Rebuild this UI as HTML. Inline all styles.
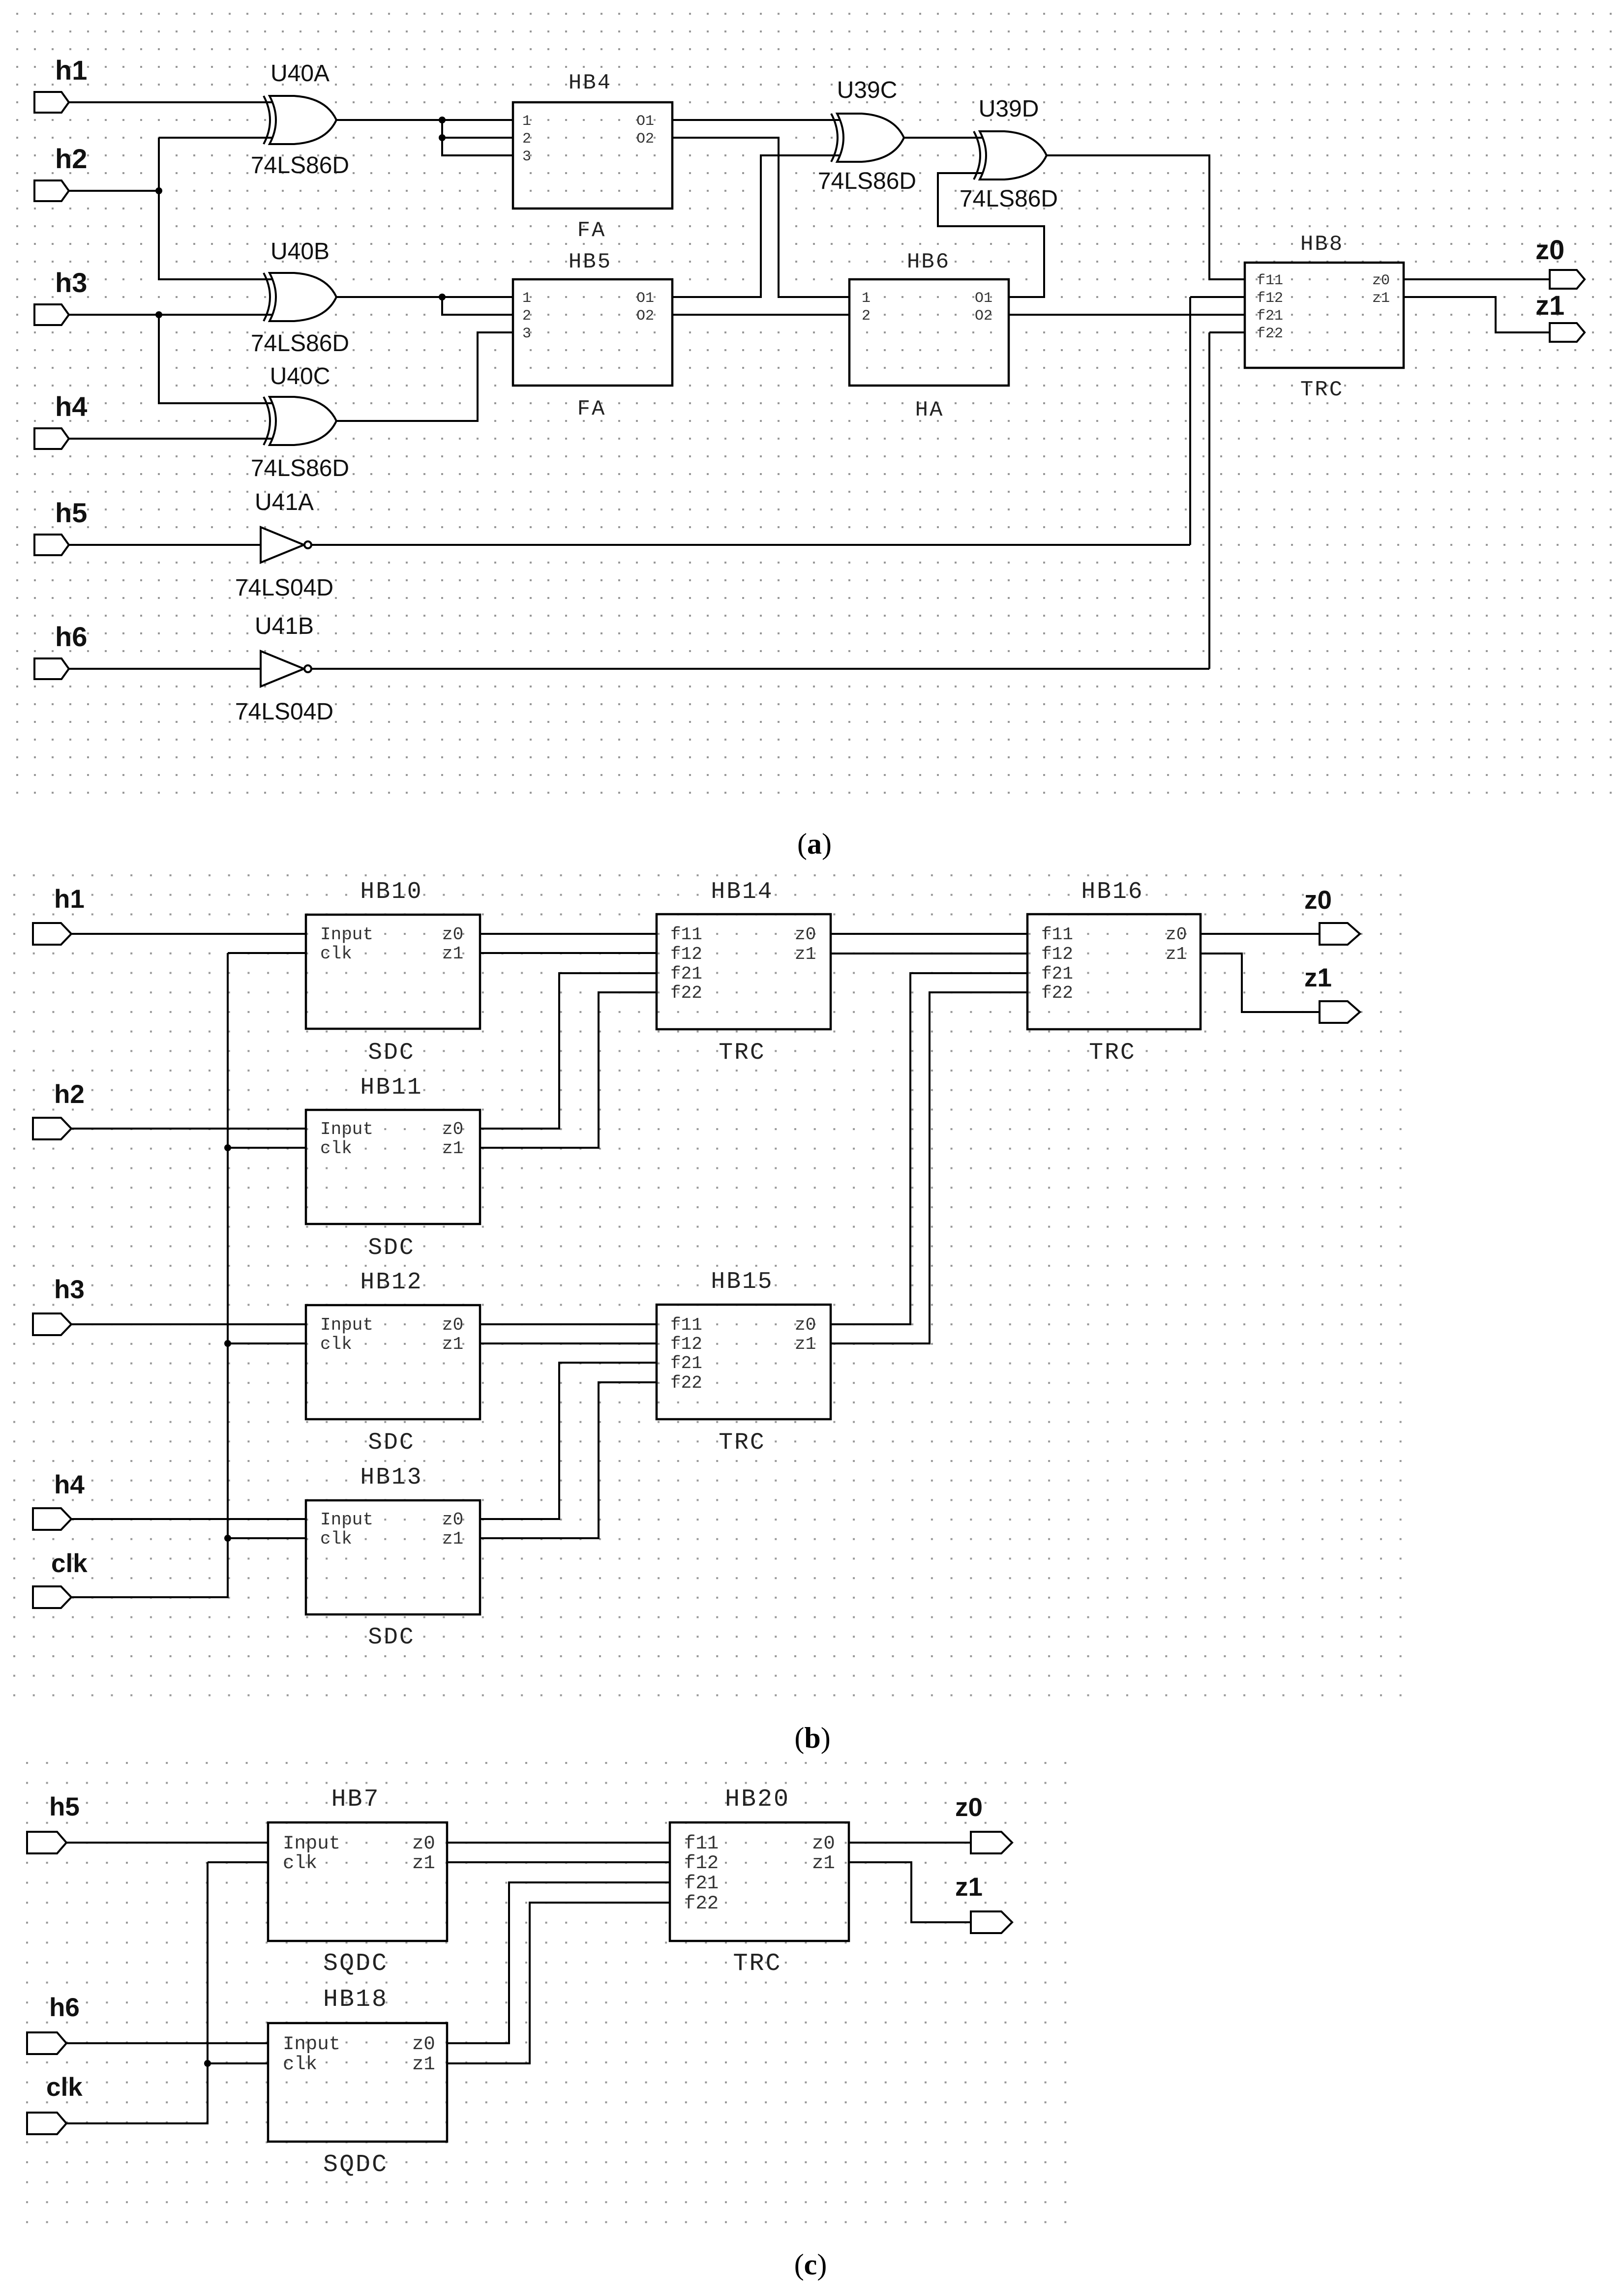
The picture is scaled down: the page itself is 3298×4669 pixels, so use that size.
<!DOCTYPE html>
<html><head><meta charset="utf-8"><style>
html,body{margin:0;padding:0;background:#fff;}
svg{display:block;}
.w{fill:none;stroke:#000;stroke-width:4;}
.b{fill:none;stroke:#000;stroke-width:4.5;}
.p{fill:#fff;stroke:#000;stroke-width:4;}
.lb{font-family:"Liberation Sans",Arial,sans-serif;font-weight:bold;font-size:56px;fill:#111;}
.gl{font-family:"Liberation Sans",Arial,sans-serif;font-size:48px;fill:#111;text-anchor:middle;}
.nl{font-family:"Liberation Mono",monospace;font-size:48px;fill:#222;text-anchor:middle;letter-spacing:3px;}
.pl{font-family:"Liberation Mono",monospace;font-size:36px;fill:#333;}
.pa{font-family:"Liberation Mono",monospace;font-size:30px;fill:#333;}
.cap{font-family:"Liberation Serif",serif;font-size:60px;fill:#000;text-anchor:middle;}
</style></head><body>
<svg width="3298" height="4669" viewBox="0 0 3298 4669" xmlns="http://www.w3.org/2000/svg">
<defs>
<pattern id="ga" x="33" y="26" width="36" height="36" patternUnits="userSpaceOnUse"><rect width="4" height="4" fill="#999"/></pattern>
<pattern id="gb" x="27" y="1778" width="39.7" height="39.7" patternUnits="userSpaceOnUse"><rect width="4" height="4" fill="#999"/></pattern>
<pattern id="gc" x="53" y="3583" width="40.6" height="40.6" patternUnits="userSpaceOnUse"><rect width="4" height="4" fill="#999"/></pattern>
</defs>
<rect x="0" y="0" width="3298" height="4669" fill="#fff"/>
<rect x="30" y="22" width="3252" height="1596" fill="url(#ga)"/>
<rect x="25" y="1775" width="2830" height="1678" fill="url(#gb)"/>
<rect x="50" y="3580" width="2122" height="945" fill="url(#gc)"/>

<!-- ============ PANEL A ============ -->
<!-- ports -->
<g class="p">
<path d="M70,187 L125,187 L140,208 L125,229 L70,229 Z"/>
<path d="M70,367 L125,367 L140,388 L125,409 L70,409 Z"/>
<path d="M70,619 L125,619 L140,640 L125,661 L70,661 Z"/>
<path d="M70,871 L125,871 L140,892 L125,913 L70,913 Z"/>
<path d="M70,1087 L125,1087 L140,1108 L125,1129 L70,1129 Z"/>
<path d="M70,1339 L125,1339 L140,1360 L125,1381 L70,1381 Z"/>
<path d="M3151,549 L3206,549 L3222,568 L3206,587 L3151,587 Z"/>
<path d="M3151,657 L3206,657 L3222,676 L3206,695 L3151,695 Z"/>
</g>
<g class="lb">
<text x="112" y="162">h1</text><text x="112" y="342">h2</text><text x="112" y="594">h3</text>
<text x="112" y="846">h4</text><text x="112" y="1062">h5</text><text x="112" y="1314">h6</text>
<text x="3122" y="527">z0</text><text x="3122" y="640">z1</text>
</g>
<!-- wires -->
<g class="w">
<path d="M140,208 H558"/>
<path d="M323,280 H558 M323,280 V568 H558 M140,388 H323"/>
<path d="M140,640 H558 M323,640 V820 H558 M140,892 H558"/>
<path d="M684,244 H1043 M899,244 V316 H1043 M899,280 H1043"/>
<path d="M684,604 H1043 M899,604 V640 H1043"/>
<path d="M684,856 H971 V676 H1043"/>
<path d="M1367,244 H1712 M1367,280 H1583 V604 H1727"/>
<path d="M1367,604 H1547 V316 H1712 M1367,640 H1727"/>
<path d="M1838,280 H2002"/>
<path d="M2051,604 H2123 V460 H1907 V352 H2002"/>
<path d="M2051,640 H2531"/>
<path d="M2128,316 H2459 V568 H2531"/>
<path d="M2420,604 H2531 M2420,604 V1108 M2459,676 H2531 M2459,676 V1360"/>
<path d="M140,1108 H530 M634,1108 H2420"/>
<path d="M140,1360 H530 M634,1360 H2459"/>
<path d="M2854,568 H3151 M2854,604 H3041 V676 H3151"/>
</g>
<g fill="#000">
<circle cx="323" cy="388" r="7"/><circle cx="323" cy="640" r="7"/>
<circle cx="899" cy="244" r="7"/><circle cx="899" cy="280" r="7"/><circle cx="899" cy="604" r="7"/>
</g>
<!-- XOR gates -->
<g class="p" stroke-width="3.5">
<path d="M548,195 L598,195 Q663,199 684,244 Q663,289 598,293 L548,293 Q574,244 548,195 Z"/>
<path d="M536,195 Q562,244 536,293" fill="none"/>
<path d="M548,555 L598,555 Q663,559 684,604 Q663,649 598,653 L548,653 Q574,604 548,555 Z"/>
<path d="M536,555 Q562,604 536,653" fill="none"/>
<path d="M548,807 L598,807 Q663,811 684,856 Q663,901 598,905 L548,905 Q574,856 548,807 Z"/>
<path d="M536,807 Q562,856 536,905" fill="none"/>
<path d="M1702,231 L1752,231 Q1817,235 1838,280 Q1817,325 1752,329 L1702,329 Q1728,280 1702,231 Z"/>
<path d="M1690,231 Q1716,280 1690,329" fill="none"/>
<path d="M1992,267 L2042,267 Q2107,271 2128,316 Q2107,361 2042,365 L1992,365 Q2018,316 1992,267 Z"/>
<path d="M1980,267 Q2006,316 1980,365" fill="none"/>
<!-- inverters -->
<path d="M530,1072 L618,1108 L530,1144 Z"/>
<circle cx="626" cy="1108" r="7"/>
<path d="M530,1324 L618,1360 L530,1396 Z"/>
<circle cx="626" cy="1360" r="7"/>
</g>
<g class="gl">
<text x="610" y="165">U40A</text><text x="610" y="352">74LS86D</text>
<text x="610" y="527">U40B</text><text x="610" y="714">74LS86D</text>
<text x="610" y="781">U40C</text><text x="610" y="968">74LS86D</text>
<text x="1763" y="199">U39C</text><text x="1763" y="384">74LS86D</text>
<text x="2051" y="237">U39D</text><text x="2051" y="420">74LS86D</text>
<text x="578" y="1037">U41A</text><text x="578" y="1211">74LS04D</text>
<text x="578" y="1289">U41B</text><text x="578" y="1463">74LS04D</text>
</g>
<!-- blocks -->
<g class="b">
<rect x="1043" y="208" width="324" height="216"/>
<rect x="1043" y="568" width="324" height="216"/>
<rect x="1727" y="568" width="324" height="216"/>
<rect x="2531" y="534" width="323" height="214"/>
</g>
<g class="nl" style="font-size:44px">
<text x="1200" y="180">HB4</text><text x="1203" y="480">FA</text>
<text x="1200" y="544">HB5</text><text x="1203" y="843">FA</text>
<text x="1888" y="544">HB6</text><text x="1890" y="845">HA</text>
<text x="2688" y="508">HB8</text><text x="2688" y="804">TRC</text>
</g>
<g class="pa">
<text x="1062" y="254">1</text><text x="1062" y="290">2</text><text x="1062" y="326">3</text>
<text x="1294" y="254">O1</text><text x="1294" y="290">O2</text>
<text x="1062" y="614">1</text><text x="1062" y="650">2</text><text x="1062" y="686">3</text>
<text x="1294" y="614">O1</text><text x="1294" y="650">O2</text>
<text x="1752" y="614">1</text><text x="1752" y="650">2</text>
<text x="1982" y="614">O1</text><text x="1982" y="650">O2</text>
<text x="2555" y="578">f11</text><text x="2555" y="614">f12</text><text x="2555" y="650">f21</text><text x="2555" y="686">f22</text>
<text x="2790" y="578">z0</text><text x="2790" y="614">z1</text>
</g>
<text class="cap" x="1656" y="1736">(<tspan font-weight="bold">a</tspan>)</text>

<!-- ============ PANEL B ============ -->
<g class="p">
<path d="M67,1877 L124,1877 L145,1899 L124,1921 L67,1921 Z"/>
<path d="M67,2273 L124,2273 L145,2295 L124,2317 L67,2317 Z"/>
<path d="M67,2671 L124,2671 L145,2693 L124,2715 L67,2715 Z"/>
<path d="M67,3067 L124,3067 L145,3089 L124,3111 L67,3111 Z"/>
<path d="M67,3226 L124,3226 L145,3248 L124,3270 L67,3270 Z"/>
<path d="M2683,1877 L2740,1877 L2765,1899 L2740,1921 L2683,1921 Z"/>
<path d="M2683,2036 L2740,2036 L2765,2058 L2740,2080 L2683,2080 Z"/>
</g>
<g class="lb" style="font-size:53px">
<text x="110" y="1846">h1</text><text x="110" y="2243">h2</text><text x="110" y="2640">h3</text>
<text x="110" y="3037">h4</text><text x="104" y="3197">clk</text>
<text x="2652" y="1848">z0</text><text x="2652" y="2006">z1</text>
</g>
<g class="w">
<path d="M145,1899 H622 M463,1938 H622 M463,1938 V3248 H145"/>
<path d="M145,2295 H622 M463,2334 H622"/>
<path d="M145,2693 H622 M463,2732 H622"/>
<path d="M145,3089 H622 M463,3128 H622"/>
<path d="M976,1899 H1335 M976,1938 H1335"/>
<path d="M976,2295 H1137 V1979 H1335 M976,2334 H1217 V2018 H1335"/>
<path d="M976,2693 H1335 M976,2732 H1335"/>
<path d="M976,3089 H1137 V2771 H1335 M976,3128 H1217 V2811 H1335"/>
<path d="M1689,1899 H2089 M1689,1939 H2089"/>
<path d="M1689,2693 H1851 V1979 H2089 M1689,2732 H1890 V2018 H2089"/>
<path d="M2441,1899 H2683 M2441,1939 H2525 V2058 H2683"/>
</g>
<g fill="#000"><circle cx="463" cy="2334" r="7"/><circle cx="463" cy="2732" r="7"/><circle cx="463" cy="3128" r="7"/></g>
<g class="b">
<rect x="622" y="1860" width="354" height="232"/>
<rect x="622" y="2257" width="354" height="232"/>
<rect x="622" y="2654" width="354" height="232"/>
<rect x="622" y="3051" width="354" height="232"/>
<rect x="1335" y="1859" width="354" height="234"/>
<rect x="1335" y="2653" width="354" height="233"/>
<rect x="2089" y="1859" width="352" height="234"/>
</g>
<g class="nl">
<text x="796" y="1826">HB10</text><text x="796" y="2153">SDC</text>
<text x="796" y="2224">HB11</text><text x="796" y="2550">SDC</text>
<text x="796" y="2620">HB12</text><text x="796" y="2946">SDC</text>
<text x="796" y="3017">HB13</text><text x="796" y="3342">SDC</text>
<text x="1509" y="1826">HB14</text><text x="1509" y="2153">TRC</text>
<text x="1509" y="2619">HB15</text><text x="1509" y="2946">TRC</text>
<text x="2262" y="1826">HB16</text><text x="2262" y="2153">TRC</text>
</g>
<g class="pl">
<text x="651" y="1910">Input</text><text x="651" y="1949">clk</text><text x="899" y="1910">z0</text><text x="899" y="1949">z1</text>
<text x="651" y="2306">Input</text><text x="651" y="2345">clk</text><text x="899" y="2306">z0</text><text x="899" y="2345">z1</text>
<text x="651" y="2704">Input</text><text x="651" y="2743">clk</text><text x="899" y="2704">z0</text><text x="899" y="2743">z1</text>
<text x="651" y="3100">Input</text><text x="651" y="3139">clk</text><text x="899" y="3100">z0</text><text x="899" y="3139">z1</text>
<text x="1363" y="1910">f11</text><text x="1363" y="1950">f12</text><text x="1363" y="1990">f21</text><text x="1363" y="2029">f22</text>
<text x="1616" y="1910">z0</text><text x="1616" y="1950">z1</text>
<text x="1363" y="2704">f11</text><text x="1363" y="2743">f12</text><text x="1363" y="2782">f21</text><text x="1363" y="2822">f22</text>
<text x="1616" y="2704">z0</text><text x="1616" y="2743">z1</text>
<text x="2117" y="1910">f11</text><text x="2117" y="1950">f12</text><text x="2117" y="1990">f21</text><text x="2117" y="2029">f22</text>
<text x="2370" y="1910">z0</text><text x="2370" y="1950">z1</text>
</g>
<text class="cap" x="1652" y="3554">(<tspan font-weight="bold">b</tspan>)</text>

<!-- ============ PANEL C ============ -->
<g class="p">
<path d="M55,3725 L116,3725 L135,3747 L116,3769 L55,3769 Z"/>
<path d="M55,4133 L116,4133 L135,4155 L116,4177 L55,4177 Z"/>
<path d="M55,4296 L116,4296 L135,4318 L116,4340 L55,4340 Z"/>
<path d="M1974,3725 L2036,3725 L2058,3747 L2036,3769 L1974,3769 Z"/>
<path d="M1974,3887 L2036,3887 L2058,3909 L2036,3931 L1974,3931 Z"/>
</g>
<g class="lb" style="font-size:53px">
<text x="100" y="3692">h5</text><text x="100" y="4100">h6</text><text x="94" y="4262">clk</text>
<text x="1942" y="3693">z0</text><text x="1942" y="3855">z1</text>
</g>
<g class="w">
<path d="M135,3747 H545 M422,3787 H545 M422,3787 V4318 H135"/>
<path d="M135,4155 H545 M422,4196 H545"/>
<path d="M909,3747 H1362 M909,3787 H1362"/>
<path d="M909,4155 H1035 V3828 H1362 M909,4196 H1077 V3869 H1362"/>
<path d="M1726,3747 H1974 M1726,3787 H1853 V3909 H1974"/>
</g>
<circle cx="422" cy="4196" r="7" fill="#000"/>
<g class="b">
<rect x="545" y="3706" width="364" height="241"/>
<rect x="545" y="4114" width="364" height="241"/>
<rect x="1362" y="3706" width="364" height="241"/>
</g>
<g class="nl" style="font-size:50px">
<text x="723" y="3672">HB7</text><text x="723" y="4006">SQDC</text>
<text x="723" y="4079">HB18</text><text x="723" y="4415">SQDC</text>
<text x="1540" y="3672">HB20</text><text x="1540" y="4006">TRC</text>
</g>
<g class="pl" style="font-size:39px">
<text x="575" y="3759">Input</text><text x="575" y="3799">clk</text><text x="838" y="3759">z0</text><text x="838" y="3799">z1</text>
<text x="575" y="4167">Input</text><text x="575" y="4208">clk</text><text x="838" y="4167">z0</text><text x="838" y="4208">z1</text>
<text x="1391" y="3759">f11</text><text x="1391" y="3799">f12</text><text x="1391" y="3840">f21</text><text x="1391" y="3881">f22</text>
<text x="1651" y="3759">z0</text><text x="1651" y="3799">z1</text>
</g>
<text class="cap" x="1648" y="4625">(<tspan font-weight="bold">c</tspan>)</text>
</svg>
</body></html>
